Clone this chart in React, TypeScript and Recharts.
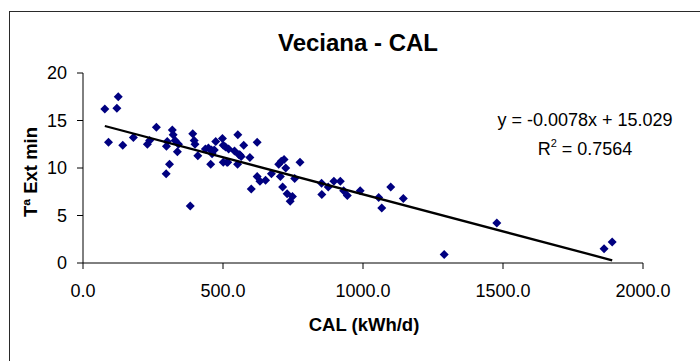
import React from 'react';
import { ScatterChart, Scatter, XAxis, YAxis } from 'recharts';

// Daily heating energy (kWh/d) against minimum outdoor temperature
const calKwhDay = [
  78, 91, 121, 126, 142, 180, 230, 238, 262, 298, 301, 297, 309, 319, 322, 329, 337, 341, 383, 392,
  397, 400, 410, 437, 448, 456, 461, 469, 474, 498, 501, 501, 509, 517, 520, 541, 552, 553, 557, 565,
  574, 596, 601, 622, 622, 632, 652, 673, 699, 705, 708, 713, 718, 724, 729, 740, 748, 756, 775, 852,
  853, 876, 896, 919, 931, 944, 990, 1056, 1067, 1099, 1144, 1290, 1478, 1861, 1890, 459, 514, 560,
];
const tempExtMin = [
  16.2, 12.7, 16.3, 17.5, 12.4, 13.2, 12.5, 12.9, 14.3, 12.3, 12.8, 9.4, 10.4, 14.0, 13.5, 12.9, 11.7, 12.5, 6.0, 13.6,
  12.9, 12.5, 11.3, 12.0, 12.1, 10.4, 11.5, 11.9, 12.8, 13.1, 12.4, 10.6, 12.2, 10.6, 12.0, 11.8, 10.4, 13.5, 11.4, 11.2,
  12.4, 11.1, 7.8, 12.7, 9.1, 8.6, 8.7, 9.4, 10.4, 9.1, 10.7, 8.0, 10.9, 10.0, 7.3, 6.5, 7.0, 8.9, 10.6, 8.4,
  7.2, 8.0, 8.6, 8.6, 7.6, 7.1, 7.6, 6.9, 5.8, 8.0, 6.8, 0.9, 4.2, 1.5, 2.2, 11.9, 10.6, 11.4,
];

const xTicks = [0, 500, 1000, 1500, 2000];
const yTicks = [0, 5, 10, 15, 20];

// Linear trend fitted to the series
const trendSlope = -0.0078;
const trendIntercept = 15.029;
const rSquared = 0.7564;

const points = calKwhDay.map((x, i) => ({ x, y: tempExtMin[i] }));
const xMin = Math.min(...calKwhDay);
const xMax = Math.max(...calKwhDay);
const trend = [xMin, xMax].map((x) => ({ x, y: trendSlope * x + trendIntercept }));

const FONT = '"Liberation Sans", Arial, Helvetica, sans-serif';

const Diamond = (props: any) => {
  const { cx, cy } = props;
  if (cx == null || cy == null) return <g />;
  const r = 4.5;
  return (
    <polygon
      points={`${cx},${cy - r} ${cx + r},${cy} ${cx},${cy + r} ${cx - r},${cy}`}
      fill="#000080"
    />
  );
};

const NoDot = () => <g />;

export default function App() {
  return (
    <div
      style={{
        position: 'absolute',
        left: 0,
        top: 0,
        width: 700,
        height: 361,
        background: '#fff',
        overflow: 'hidden',
        fontFamily: FONT,
      }}
    >
      <div
        style={{
          position: 'absolute',
          left: 9,
          top: 11,
          width: 800,
          height: 500,
          border: '1px solid #2a2a2a',
          boxSizing: 'border-box',
        }}
      />
      <div style={{ position: 'absolute', left: 0, top: 0 }}>
        <ScatterChart width={700} height={361} margin={{ top: 73, right: 57, bottom: 0, left: 0 }}>
          <XAxis
            type="number"
            dataKey="x"
            domain={[0, 2000]}
            ticks={xTicks}
            tickFormatter={(v: number) => v.toFixed(1)}
            height={98}
            tickSize={6}
            tickMargin={15}
            axisLine={{ stroke: '#000', strokeWidth: 1 }}
            tickLine={{ stroke: '#000', strokeWidth: 1 }}
            tick={{ fill: '#000', fontSize: 18, fontFamily: FONT }}
            allowDataOverflow
          />
          <YAxis
            type="number"
            dataKey="y"
            domain={[0, 20]}
            ticks={yTicks}
            width={83}
            tickSize={6}
            tickMargin={10}
            axisLine={{ stroke: '#000', strokeWidth: 1 }}
            tickLine={{ stroke: '#000', strokeWidth: 1 }}
            tick={{ fill: '#000', fontSize: 18, fontFamily: FONT }}
            allowDataOverflow
          />
          <Scatter data={points} shape={Diamond} isAnimationActive={false} />
          <Scatter
            data={trend}
            line={{ stroke: '#000', strokeWidth: 2.3 }}
            shape={NoDot}
            isAnimationActive={false}
          />
        </ScatterChart>
      </div>
      <svg
        width={700}
        height={361}
        style={{ position: 'absolute', left: 0, top: 0, pointerEvents: 'none' }}
      >
        <text x={358} y={51} textAnchor="middle" fontFamily={FONT} fontSize={24} fontWeight="bold" fill="#000">
          Veciana - CAL
        </text>
        <text x={364} y={331} textAnchor="middle" fontFamily={FONT} fontSize={18.5} fontWeight="bold" fill="#000">
          CAL (kWh/d)
        </text>
        <text
          transform="translate(36.5,172) rotate(-90)"
          textAnchor="middle"
          fontFamily={FONT}
          fontSize={18.5}
          fontWeight="bold"
          fill="#000"
        >
          Tª Ext min
        </text>
        <text x={585} y={126} textAnchor="middle" fontFamily={FONT} fontSize={18} fill="#000">
          {`y = ${trendSlope}x + ${trendIntercept.toFixed(3)}`}
        </text>
        <text x={585} y={155} textAnchor="middle" fontFamily={FONT} fontSize={18} fill="#000">
          R
          <tspan fontSize={11} dy={-8}>2</tspan>
          <tspan dy={8}>{` = ${rSquared}`}</tspan>
        </text>
      </svg>
    </div>
  );
}
